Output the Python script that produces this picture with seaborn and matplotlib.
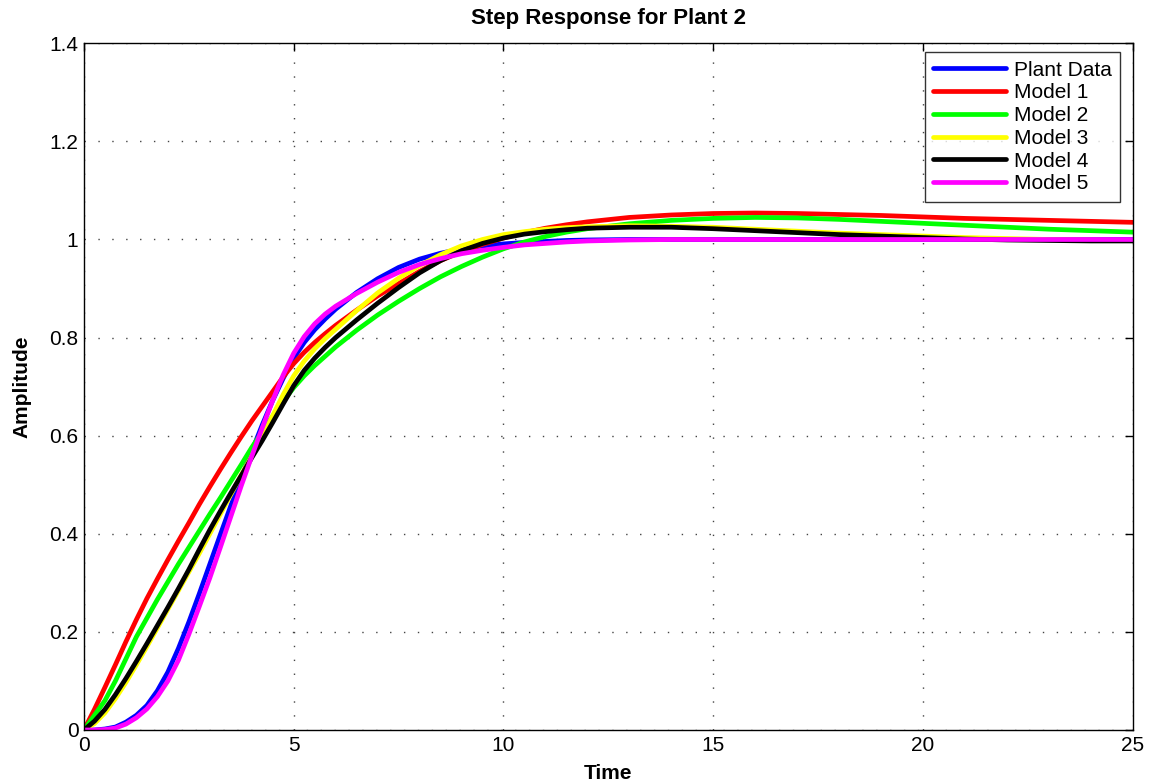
"""Step response comparison for plant 2 (MATLAB-style figure)."""

import matplotlib
matplotlib.use("Agg")
import matplotlib.pyplot as plt
import seaborn as sns
import pandas as pd

# time samples (s)
time = [0, 0.25, 0.5, 0.75, 1, 1.25, 1.5, 1.75, 2, 2.25, 2.5, 2.75, 3, 3.25,
        3.5, 3.75, 4, 4.25, 4.5, 4.75, 5, 5.25, 5.5, 5.75, 6, 6.5, 7, 7.5, 8,
        8.5, 9, 9.5, 10, 10.5, 11, 11.5, 12, 13, 14, 15, 16, 17, 18, 19, 20,
        21, 22, 23, 24, 25]

plant_data = [0, 0.0, 0.002, 0.006, 0.016, 0.03, 0.05, 0.08, 0.118, 0.166,
              0.22, 0.278, 0.338, 0.398, 0.457, 0.514, 0.568, 0.622, 0.672,
              0.717, 0.758, 0.79, 0.816, 0.838, 0.858, 0.892, 0.92, 0.943,
              0.96, 0.972, 0.981, 0.987, 0.991, 0.994, 0.996, 0.998, 0.999,
              1.0, 1.0, 1.0, 1.0, 1.0, 1.0, 1.0, 1.0, 1.0, 1.0, 1.0, 1.0, 1.0]

model_1 = [0, 0.042, 0.087, 0.133, 0.18, 0.225, 0.268, 0.308, 0.347, 0.385,
           0.422, 0.46, 0.496, 0.531, 0.565, 0.598, 0.63, 0.66, 0.69, 0.72,
           0.747, 0.77, 0.79, 0.808, 0.825, 0.856, 0.885, 0.91, 0.935, 0.957,
           0.975, 0.99, 1.003, 1.014, 1.023, 1.03, 1.036, 1.045, 1.05, 1.053,
           1.054, 1.053, 1.051, 1.049, 1.046, 1.043, 1.041, 1.039, 1.037,
           1.035]

model_2 = [0, 0.03, 0.06, 0.1, 0.145, 0.19, 0.228, 0.266, 0.302, 0.338,
           0.372, 0.406, 0.44, 0.473, 0.507, 0.541, 0.576, 0.608, 0.64, 0.67,
           0.698, 0.722, 0.743, 0.762, 0.781, 0.815, 0.846, 0.874, 0.9,
           0.924, 0.945, 0.964, 0.981, 0.995, 1.006, 1.015, 1.022, 1.032,
           1.039, 1.043, 1.045, 1.044, 1.041, 1.037, 1.033, 1.029, 1.025,
           1.021, 1.018, 1.015]

model_3 = [0, 0.013, 0.035, 0.064, 0.097, 0.133, 0.17, 0.208, 0.246, 0.284,
           0.322, 0.36, 0.4, 0.44, 0.48, 0.52, 0.558, 0.598, 0.641, 0.684,
           0.722, 0.752, 0.777, 0.798, 0.817, 0.855, 0.891, 0.921, 0.947,
           0.969, 0.987, 1.0, 1.01, 1.016, 1.021, 1.024, 1.026, 1.028, 1.027,
           1.025, 1.021, 1.017, 1.013, 1.01, 1.007, 1.004, 1.002, 1.0, 0.999,
           0.998]

model_4 = [0, 0.018, 0.042, 0.072, 0.105, 0.14, 0.176, 0.213, 0.25, 0.288,
           0.327, 0.368, 0.408, 0.446, 0.483, 0.519, 0.555, 0.59, 0.627, 0.665,
           0.702, 0.733, 0.758, 0.78, 0.8, 0.836, 0.87, 0.902, 0.932, 0.957,
           0.977, 0.992, 1.003, 1.011, 1.016, 1.02, 1.023, 1.025, 1.025,
           1.022, 1.018, 1.014, 1.01, 1.007, 1.004, 1.001, 0.999, 0.998,
           0.997, 0.997]

model_5 = [0, 0.0, 0.001, 0.004, 0.012, 0.025, 0.043, 0.068, 0.1, 0.142,
           0.195, 0.252, 0.31, 0.372, 0.435, 0.498, 0.558, 0.616, 0.672,
           0.724, 0.768, 0.802, 0.828, 0.848, 0.864, 0.89, 0.913, 0.933,
           0.949, 0.961, 0.971, 0.978, 0.984, 0.989, 0.992, 0.995, 0.997,
           0.999, 1.0, 1.0, 1.0, 1.0, 1.0, 1.0, 1.0, 1.0, 1.0, 1.0, 1.0, 1.0]

series_names = ["Plant Data", "Model 1", "Model 2", "Model 3", "Model 4", "Model 5"]
series_values = [plant_data, model_1, model_2, model_3, model_4, model_5]
series_colors = ["#0000ff", "#ff0000", "#00ff00", "#ffff00", "#000000", "#ff00ff"]

x_ticks = [0, 5, 10, 15, 20, 25]
y_ticks = [0, 0.2, 0.4, 0.6, 0.8, 1.0, 1.2, 1.4]
y_tick_labels = ["0", "0.2", "0.4", "0.6", "0.8", "1", "1.2", "1.4"]

# long-form table for seaborn
df = pd.concat(
    [pd.DataFrame({"Time": time, "Amplitude": vals, "Series": name})
     for name, vals in zip(series_names, series_values)],
    ignore_index=True,
)

sns.set_style("white")
plt.rcParams["font.family"] = ["Liberation Sans Narrow", "Liberation Sans", "DejaVu Sans"]
plt.rcParams["text.color"] = "black"
plt.rcParams["axes.labelcolor"] = "black"
plt.rcParams["xtick.color"] = "black"
plt.rcParams["ytick.color"] = "black"

fig = plt.figure(figsize=(11.5, 7.83), dpi=100)
ax = fig.add_axes([0.073, 0.0677, 0.912, 0.877])

sns.lineplot(data=df, x="Time", y="Amplitude", hue="Series",
             hue_order=series_names, palette=dict(zip(series_names, series_colors)),
             linewidth=3.4, estimator=None, sort=False, ax=ax)

ax.set_xlim(0, 25)
ax.set_ylim(0, 1.4)
ax.set_xticks(x_ticks)
ax.set_xticklabels([str(v) for v in x_ticks])
ax.set_yticks(y_ticks)
ax.set_yticklabels(y_tick_labels)
ax.tick_params(direction="in", top=True, right=True, length=6, width=1,
               labelsize=15, pad=4, color="black", labelcolor="black")
ax.grid(True, linestyle=(0, (1, 9)), color="#444444", linewidth=1.0)
for spine in ax.spines.values():
    spine.set_color("black")
    spine.set_linewidth(1.0)

ax.set_title("Step Response for Plant 2", fontsize=16, fontweight="bold",
             pad=14, color="black")
ax.set_xlabel("Time", fontsize=15, fontweight="bold", labelpad=7, color="black")
ax.set_ylabel("Amplitude", fontsize=15, fontweight="bold", labelpad=13,
              color="black")

leg = ax.legend(loc="upper right", bbox_to_anchor=(0.9876, 0.987), frameon=True,
                fancybox=False, shadow=False, borderaxespad=0,
                prop={"family": ["Liberation Sans", "DejaVu Sans"], "size": 15},
                handlelength=3.5, handletextpad=0.35, labelspacing=0.18,
                borderpad=0.4, labelcolor="black")
leg.get_frame().set_edgecolor("black")
leg.get_frame().set_linewidth(1.0)
for line in leg.get_lines():
    line.set_linewidth(3.4)

fig.savefig("out.png", dpi=100)
plt.close(fig)
